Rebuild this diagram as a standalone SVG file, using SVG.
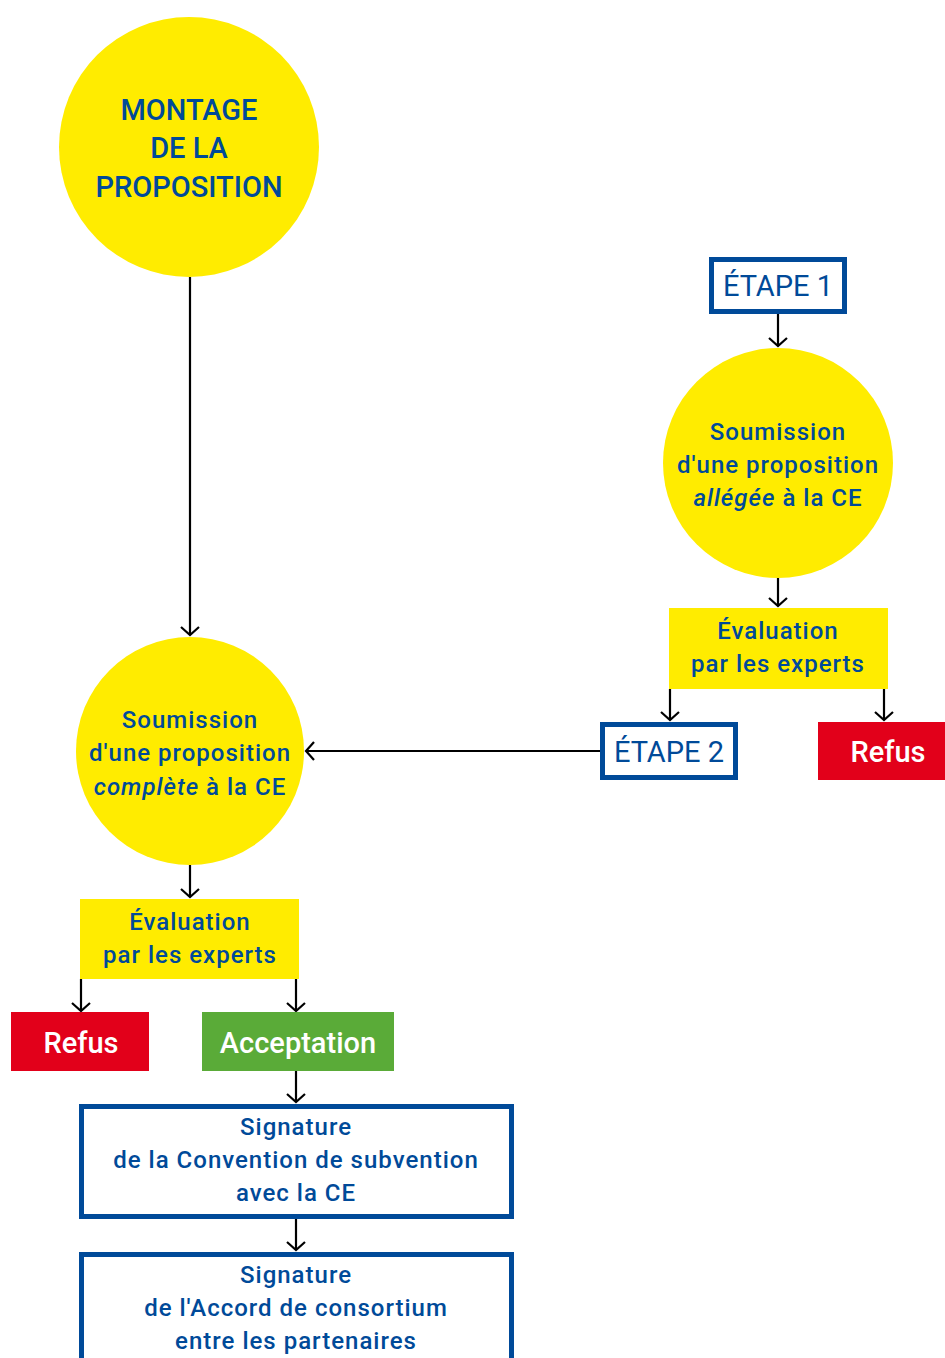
<svg xmlns="http://www.w3.org/2000/svg" width="945" height="1358" viewBox="0 0 945 1358">
<style>
.t{font-family:Roboto,"Liberation Sans",sans-serif;fill:#004a99;text-anchor:middle}
.m{font-size:24px;font-weight:500;letter-spacing:1px}
.big{font-size:29px;font-weight:400}
.bm{font-weight:500}
.w{fill:#ffffff}
.yel{fill:#ffec00}
.box{fill:#ffffff;stroke:#004a99;stroke-width:5}
.c{stroke:#000;stroke-width:2.2;fill:none;marker-end:url(#ah)}
</style>
<defs>
<marker id="ah" markerUnits="userSpaceOnUse" markerWidth="20" markerHeight="20" viewBox="-10 -10 20 20" refX="0" refY="0" orient="auto">
<path d="M-8,-9 L0,0 L-8,9" fill="none" stroke="#000" stroke-width="2.2"/>
</marker>
</defs>
<g id="connectors">
<line class="c" x1="190" y1="277" x2="190" y2="635"/>
<line class="c" x1="778" y1="314" x2="778" y2="346"/>
<line class="c" x1="778" y1="578" x2="778" y2="606"/>
<line class="c" x1="670" y1="689" x2="670" y2="720"/>
<line class="c" x1="884" y1="689" x2="884" y2="720"/>
<line class="c" x1="600" y1="751" x2="306" y2="751"/>
<line class="c" x1="190" y1="865" x2="190" y2="897"/>
<line class="c" x1="81" y1="979" x2="81" y2="1011"/>
<line class="c" x1="296" y1="979" x2="296" y2="1011"/>
<line class="c" x1="296" y1="1071" x2="296" y2="1102"/>
<line class="c" x1="296" y1="1219" x2="296" y2="1250"/>
</g>
<g id="montage">
<circle class="yel" cx="189" cy="147" r="130"/>
<text class="t big bm" x="189" y="120">MONTAGE</text>
<text class="t big bm" x="189" y="158">DE LA</text>
<text class="t big bm" x="189" y="197">PROPOSITION</text>
</g>
<g id="etape1">
<rect class="box" x="711.5" y="259.5" width="133" height="52"/>
<text class="t big" x="778" y="296">ÉTAPE 1</text>
</g>
<g id="soumission-allegee">
<circle class="yel" cx="778" cy="463" r="115"/>
<text class="t m" x="778" y="440">Soumission</text>
<text class="t m" x="778" y="473">d'une proposition</text>
<text class="t m" x="778" y="506"><tspan font-style="italic">allégée</tspan> à la CE</text>
</g>
<g id="evaluation-1">
<rect class="yel" x="669" y="608" width="219" height="81"/>
<text class="t m" x="778" y="639">Évaluation</text>
<text class="t m" x="778" y="672">par les experts</text>
</g>
<g id="etape2">
<rect class="box" x="602.5" y="724.5" width="133" height="53"/>
<text class="t big" x="669" y="762">ÉTAPE 2</text>
</g>
<g id="refus-1">
<rect fill="#e2001a" x="818" y="722" width="130" height="58"/>
<text class="t big bm w" x="888" y="762">Refus</text>
</g>
<g id="soumission-complete">
<circle class="yel" cx="190" cy="751" r="114"/>
<text class="t m" x="190" y="728">Soumission</text>
<text class="t m" x="190" y="761">d'une proposition</text>
<text class="t m" x="190" y="795"><tspan font-style="italic">complète</tspan> à la CE</text>
</g>
<g id="evaluation-2">
<rect class="yel" x="80" y="899" width="219" height="80"/>
<text class="t m" x="190" y="930">Évaluation</text>
<text class="t m" x="190" y="963">par les experts</text>
</g>
<g id="refus-2">
<rect fill="#e2001a" x="11" y="1012" width="138" height="59"/>
<text class="t big bm w" x="81" y="1053">Refus</text>
</g>
<g id="acceptation">
<rect fill="#5aab38" x="202" y="1012" width="192" height="59"/>
<text class="t big bm w" x="298" y="1053">Acceptation</text>
</g>
<g id="signature-convention">
<rect class="box" x="81.5" y="1106.5" width="430" height="110"/>
<text class="t m" x="296" y="1135">Signature</text>
<text class="t m" x="296" y="1168">de la Convention de subvention</text>
<text class="t m" x="296" y="1201">avec la CE</text>
</g>
<g id="signature-accord">
<rect class="box" x="81.5" y="1254.5" width="430" height="120"/>
<text class="t m" x="296" y="1283">Signature</text>
<text class="t m" x="296" y="1316">de l'Accord de consortium</text>
<text class="t m" x="296" y="1349">entre les partenaires</text>
</g>
</svg>
